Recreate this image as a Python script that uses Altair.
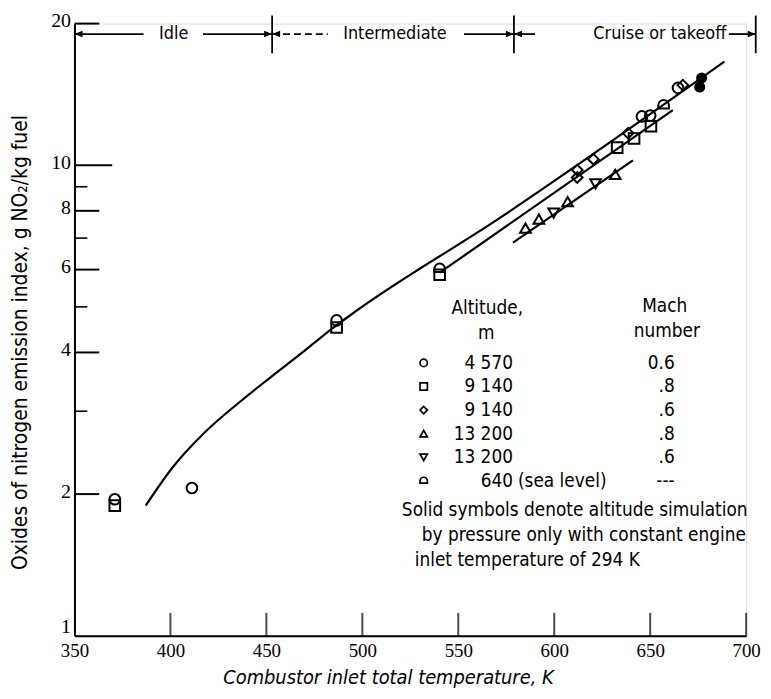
import altair as alt
import pandas as pd

# ---------------- data ----------------
# faired curve / lines  (T in K, EI in g NO2/kg fuel)
curve_T = [387.1, 400.8, 418.1, 435.3, 452.5, 469.8, 484.4, 497.4, 571.5, 688.7]
curve_EI = [1.89, 2.27, 2.71, 3.12, 3.55, 4.03, 4.50, 4.92, 7.72, 16.6]
line2_T = [540.3, 661.8]
line2_EI = [5.91, 13.1]
line3_T = [578.5, 641.0]
line3_EI = [6.85, 10.24]

# measured points
circle_T = [371.0, 411.2, 486.6, 645.7, 650.0, 664.5]
circle_EI = [1.95, 2.06, 4.68, 12.7, 12.75, 14.6]
square_T = [371.0, 486.6, 540.3, 632.8, 641.6, 650.4]
square_EI = [1.89, 4.52, 5.85, 10.9, 11.4, 12.1]
diamond_T = [612.0, 612.0, 620.4, 638.5, 667.0]
diamond_EI = [9.77, 9.42, 10.3, 11.7, 14.8]
triup_T = [585.0, 592.0, 607.0, 631.8]
triup_EI = [7.35, 7.68, 8.37, 9.56]
tridown_T = [599.7, 621.5]
tridown_EI = [7.91, 9.13]
sea_T = [540.3, 657.0]
sea_EI = [6.02, 13.4]
solid_T = [676.8, 675.8]
solid_EI = [15.33, 14.66]

# axis ticks
x_ticks = [350, 400, 450, 500, 550, 600, 650, 700]
x_inner_ticks = [400, 450, 500, 550, 600, 650, 700]
y_ticks = [1, 2, 4, 6, 8, 10, 20]
y_major_inner = [2, 4, 6, 8, 20]
y_long_inner = [10]
y_minor_inner = [3, 5, 7, 9]

# operating-regime annotation along the top
phase_names = ["Idle", "Intermediate", "Cruise or takeoff"]
phase_centers = [401.7, 517.0, 655.0]
phase_bounds = [453.0, 579.0, 705.0]
seg_start = [350.0, 417.0, 553.0, 579.0, 691.0]
seg_end = [386.0, 453.0, 579.0, 590.0, 705.0]
dashed_start = [453.0]
dashed_end = [482.0]

# legend table
legend_shapes = ["circle", "square", "diamond", "triangle-up", "triangle-down", "sea"]
legend_alt = ["4 570", "9 140", "9 140", "13 200", "13 200", "640"]
legend_mach = ["0.6", ".8", ".6", ".8", ".6", "---"]
note_lines = ["Solid symbols denote altitude simulation",
              "by pressure only with constant engine",
              "inlet temperature of 294 K"]

# ---------------- styling ----------------
COND = "DejaVu Sans Condensed"
NARROW = "Liberation Sans Narrow"
SEA_PATH = "M-1,0.6L-1,0A1,1,0,0,1,1,0L1,0.6Z"
ARROW_R = "M0,0L-1,-0.4L-1,0.4Z"
ARROW_L = "M0,0L1,-0.4L1,0.4Z"
shape_map = {"circle": "circle", "square": "square", "diamond": "diamond",
             "triangle-up": "triangle-up", "triangle-down": "triangle-down", "sea": SEA_PATH}
W, H = 677, 617
ARROW_LEVEL = 19.0
BAR_LO, BAR_HI = 17.3, 20.8

xs = alt.Scale(domain=[350, 700], nice=False, zero=False)
ys = alt.Scale(type="log", domain=[1, 20], nice=False)

ax_x = alt.Axis(values=x_ticks, title="Combustor inlet total temperature, K", grid=False,
                ticks=False, domainColor="black", domainWidth=2, labelFont=NARROW,
                labelFontSize=19, labelColor="black", labelPadding=6, labelFlush=False,
                labelOverlap=False, titleFont=COND, titleFontSize=20, titleFontStyle="italic",
                titleFontWeight="normal", titleColor="black", titleX=316, titleY=48,
                titleAlign="center", titleBaseline="alphabetic")
ax_y = alt.Axis(values=y_ticks, format="d", title="Oxides of nitrogen emission index, g NO₂/kg fuel",
                grid=False, ticks=False, domainColor="black", domainWidth=2, labelFont=NARROW,
                labelFontSize=20, labelColor="black", labelPadding=4, labelFlush=False,
                labelOverlap=False, labelOffset=-3,
                labelBaseline=alt.condition("datum.value == 1", alt.value("alphabetic"),
                                            alt.value("middle")),
                titleFont=COND, titleFontSize=21,
                titleFontWeight="normal", titleColor="black", titleAngle=270, titleX=-54,
                titleY=321, titleAlign="center", titleBaseline="middle")


def X(f="T"):
    return alt.X(f"{f}:Q", scale=xs, axis=ax_x)


def Y(f="EI"):
    return alt.Y(f"{f}:Q", scale=ys, axis=ax_y)


# ---------------- lines ----------------
curve = alt.Chart(pd.DataFrame({"T": curve_T, "EI": curve_EI})).mark_line(
    color="black", strokeWidth=2.2, interpolate="monotone").encode(x=X(), y=Y())
line2 = alt.Chart(pd.DataFrame({"T": line2_T, "EI": line2_EI})).mark_line(
    color="black", strokeWidth=2.2).encode(x=X(), y=Y())
line3 = alt.Chart(pd.DataFrame({"T": line3_T, "EI": line3_EI})).mark_line(
    color="black", strokeWidth=2.2).encode(x=X(), y=Y())

# ---------------- points ----------------
rows = []
for key, T, EI in [("circle", circle_T, circle_EI), ("square", square_T, square_EI),
                   ("diamond", diamond_T, diamond_EI), ("triangle-up", triup_T, triup_EI),
                   ("triangle-down", tridown_T, tridown_EI), ("sea", sea_T, sea_EI)]:
    for t, e in zip(T, EI):
        rows.append({"T": t, "EI": e, "shape": shape_map[key]})
pts_df = pd.DataFrame(rows)
open_pts = alt.Chart(pts_df).mark_point(
    filled=False, color="black", strokeWidth=2, size=115, opacity=1).encode(
    x=X(), y=Y(), shape=alt.Shape("shape:N", scale=None))
solid_pts = alt.Chart(pd.DataFrame({"T": solid_T, "EI": solid_EI})).mark_point(
    filled=True, shape="circle", color="black", size=125, opacity=1).encode(x=X(), y=Y())

# ---------------- inward ticks ----------------
xt = alt.Chart(pd.DataFrame({"T": x_inner_ticks})).mark_tick(
    color="black", thickness=2, size=23, orient="vertical").encode(
    x=X(), y=alt.value(H - 11.5))
yt_major = alt.Chart(pd.DataFrame({"EI": y_major_inner})).mark_rule(color="black", strokeWidth=2).encode(
    y=Y(), x=alt.value(0), x2=alt.value(25))
yt_long = alt.Chart(pd.DataFrame({"EI": y_long_inner})).mark_rule(color="black", strokeWidth=2).encode(
    y=Y(), x=alt.value(0), x2=alt.value(38))
yt_minor = alt.Chart(pd.DataFrame({"EI": y_minor_inner})).mark_rule(color="black", strokeWidth=1.6).encode(
    y=Y(), x=alt.value(0), x2=alt.value(13))

# ---------------- top regime annotation ----------------
seg_df = pd.DataFrame({"T": seg_start, "T2": seg_end, "EI": [ARROW_LEVEL] * len(seg_start)})
segs = alt.Chart(seg_df).mark_rule(color="black", strokeWidth=1.8).encode(x=X(), x2="T2:Q", y=Y())
dseg_df = pd.DataFrame({"T": dashed_start, "T2": dashed_end, "EI": [ARROW_LEVEL] * len(dashed_start)})
dsegs = alt.Chart(dseg_df).mark_rule(color="black", strokeWidth=1.8, strokeDash=[7, 4]).encode(
    x=X(), x2="T2:Q", y=Y())
bars_df = pd.DataFrame({"T": phase_bounds, "EI": [BAR_LO] * 3, "EI2": [BAR_HI] * 3})
bars = alt.Chart(bars_df).mark_rule(color="black", strokeWidth=1.8).encode(x=X(), y=Y(), y2="EI2:Q")
head_r = alt.Chart(pd.DataFrame({"T": phase_bounds, "EI": [ARROW_LEVEL] * 3})).mark_point(
    shape=ARROW_R, filled=True, color="black", size=260, opacity=1).encode(x=X(), y=Y())
head_l = alt.Chart(pd.DataFrame({"T": [350.0, phase_bounds[0], phase_bounds[1]],
                                 "EI": [ARROW_LEVEL] * 3})).mark_point(
    shape=ARROW_L, filled=True, color="black", size=260, opacity=1).encode(x=X(), y=Y())
phase_txt = alt.Chart(pd.DataFrame({"T": phase_centers, "EI": [ARROW_LEVEL] * 3,
                                    "label": phase_names})).mark_text(
    font=COND, fontSize=18, color="black", baseline="middle", align="center").encode(
    x=X(), y=Y(), text="label:N")

# ---------------- legend table (pixel placement inside plot) ----------------
ROW0, ROWSTEP = 342, 23.8
n = len(legend_shapes)
leg_sym = pd.DataFrame({"px": [352] * n, "py": [ROW0 + i * ROWSTEP for i in range(n)],
                        "shape": [shape_map[s] for s in legend_shapes]})
leg_symbols = alt.Chart(leg_sym).mark_point(filled=False, color="black", strokeWidth=1.7,
                                             size=55, opacity=1).encode(
    x=alt.X("px:Q", scale=None, axis=None), y=alt.Y("py:Q", scale=None, axis=None),
    shape=alt.Shape("shape:N", scale=None))


def text_layer(px, py, labels, align, size=19, style="normal"):
    df = pd.DataFrame({"px": px, "py": py, "label": labels})
    return alt.Chart(df).mark_text(font=COND, fontSize=size, color="black", align=align,
                                   baseline="middle", fontStyle=style).encode(
        x=alt.X("px:Q", scale=None, axis=None), y=alt.Y("py:Q", scale=None, axis=None),
        text="label:N")


leg_alt = text_layer([442] * n, [ROW0 + i * ROWSTEP for i in range(n)], legend_alt, "right")
leg_sea = text_layer([447], [ROW0 + (n - 1) * ROWSTEP], ["(sea level)"], "left")
leg_mach = text_layer([605] * n, [ROW0 + i * ROWSTEP for i in range(n)], legend_mach, "right")
leg_head = text_layer([416, 415, 595, 597], [287, 312, 285, 310],
                      ["Altitude,", "m", "Mach", "number"], "center")
note = text_layer([330, 350, 343], [490, 516, 541], note_lines, "left")

chart = alt.layer(
    curve, line2, line3, open_pts, solid_pts, xt, yt_major, yt_long, yt_minor,
    segs, dsegs, bars, head_r, head_l, phase_txt,
    leg_symbols, leg_alt, leg_sea, leg_mach, leg_head, note
).properties(
    width=W, height=H,
    autosize=alt.AutoSizeParams(type="none"),
    padding={"left": 67, "top": 13, "right": 17, "bottom": 53},
).configure_view(stroke=None).configure(background="white")

chart.save("out.html", embed_options={"renderer": "svg", "actions": False})
